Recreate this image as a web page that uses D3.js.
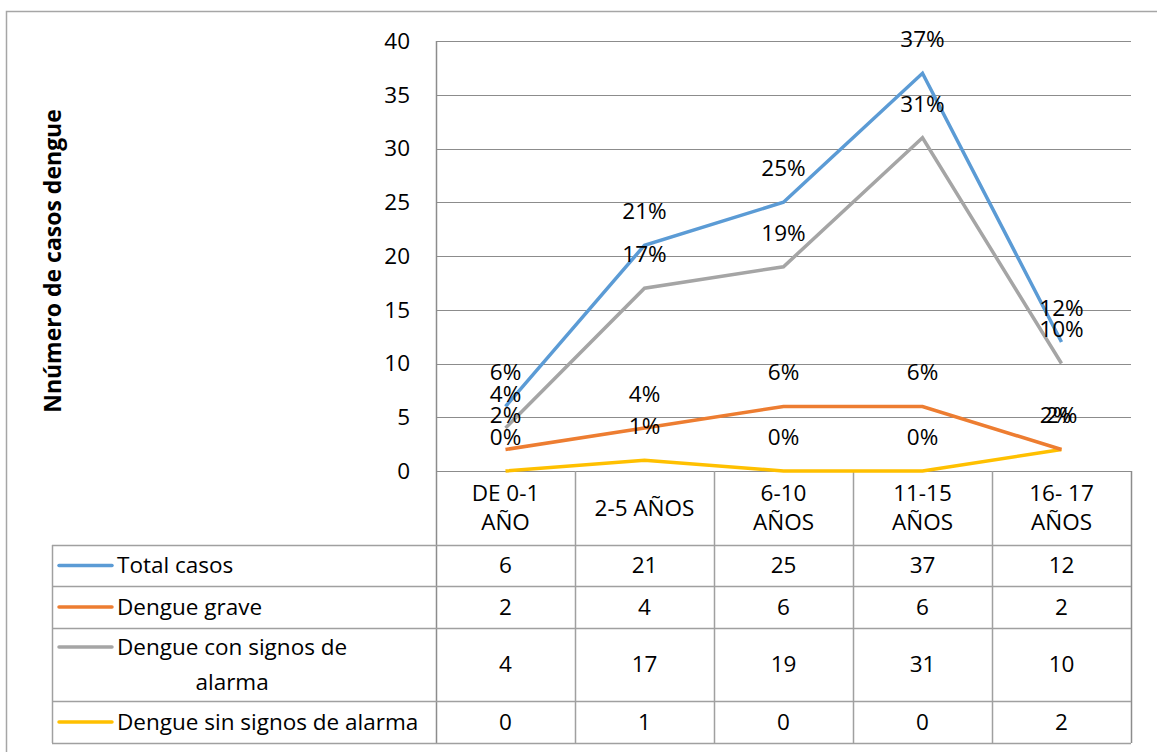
<!DOCTYPE html>
<html>
<head>
<meta charset="utf-8">
<script src="https://cdn.jsdelivr.net/npm/d3@7"></script>
<style>
  body { margin: 0; background: #fff; }
  text { font-family: "Open Sans", Lato, sans-serif; fill: #000; }
</style>
</head>
<body>
<div id="chart"></div>
<script>
// data
let categories = [["DE 0-1", "AÑO"], ["2-5 AÑOS"], ["6-10", "AÑOS"], ["11-15", "AÑOS"], ["16- 17", "AÑOS"]]
let seriesNames = [["Total casos"], ["Dengue grave"], ["Dengue con signos de", "alarma"], ["Dengue sin signos de alarma"]]
let totalCasos = [6, 21, 25, 37, 12]
let dengueGrave = [2, 4, 6, 6, 2]
let dengueConSignos = [4, 17, 19, 31, 10]
let dengueSinSignos = [0, 1, 0, 0, 2]
let yTicks = [0, 5, 10, 15, 20, 25, 30, 35, 40]
let colors = ["#5B9BD5", "#ED7D31", "#A5A5A5", "#FFC000"]

let series = [totalCasos, dengueGrave, dengueConSignos, dengueSinSignos]
let grandTotal = d3.sum(totalCasos)

let W = 1157, H = 752
let fs = "22.5px"
let svg = d3.select("#chart")
    .append("svg")
    .attr("width", W)
    .attr("height", H)

// outer chart border
svg.append("rect")
    .attr("x", 6.5)
    .attr("y", 11.5)
    .attr("width", 1200)
    .attr("height", 800)
    .attr("fill", "none")
    .attr("stroke", "#a6a6a6")
    .attr("stroke-width", 1.5)

let plotLeft = 436, plotRight = 1131, plotTop = 41, plotBottom = 471

let x = d3.scaleBand()
    .domain(d3.range(categories.length))
    .range([plotLeft, plotRight])

let y = d3.scaleLinear()
    .domain([0, 40])
    .range([plotBottom, plotTop])

let gridColor = "#8c8c8c"
let tableColor = "#a0a0a0"

// gridlines
svg.append("g")
    .selectAll("line")
    .data(yTicks)
    .join("line")
    .attr("x1", plotLeft)
    .attr("x2", plotRight)
    .attr("y1", d => Math.round(y(d)) + 0.5)
    .attr("y2", d => Math.round(y(d)) + 0.5)
    .attr("stroke", gridColor)
    .attr("stroke-width", 1.2)

// y tick labels
svg.append("g")
    .selectAll("text")
    .data(yTicks)
    .join("text")
    .attr("x", 410)
    .attr("y", d => y(d))
    .attr("dy", "0.35em")
    .attr("text-anchor", "end")
    .style("font-size", fs)
    .text(d => d)

// y axis title
svg.append("text")
    .attr("transform", "translate(61,261) rotate(-90)")
    .attr("text-anchor", "middle")
    .style("font-size", "23px")
    .style("font-weight", "bold")
    .text("Nnúmero de casos dengue")

// data table
let rowTops = [545, 586, 628, 701]
let rowBottoms = [586, 628, 701, 743]
let tableLeft = 52

// vertical lines of category columns
let colEdges = d3.range(categories.length + 1).map(i => i < categories.length ? x(i) : plotRight)
svg.append("g")
    .selectAll("line")
    .data(colEdges)
    .join("line")
    .attr("x1", d => Math.round(d) + 0.5)
    .attr("x2", d => Math.round(d) + 0.5)
    .attr("y1", d => d == plotLeft ? plotTop : plotBottom)
    .attr("y2", 743)
    .attr("stroke", d => d == plotLeft || d == plotRight ? gridColor : tableColor)
    .attr("stroke-width", 1.5)

// horizontal rows
svg.append("g")
    .selectAll("line")
    .data(rowTops.concat([743]))
    .join("line")
    .attr("x1", tableLeft)
    .attr("x2", plotRight)
    .attr("y1", d => d + 0.5)
    .attr("y2", d => d + 0.5)
    .attr("stroke", tableColor)
    .attr("stroke-width", 1.5)

svg.append("line")
    .attr("x1", tableLeft + 0.5)
    .attr("x2", tableLeft + 0.5)
    .attr("y1", 545)
    .attr("y2", 743)
    .attr("stroke", tableColor)
    .attr("stroke-width", 1.5)

// category labels
let catG = svg.append("g")
categories.forEach((lines, i) => {
    let cx = x(i) + x.bandwidth() / 2
    let cy = (plotBottom + 545) / 2
    lines.forEach((t, j) => {
        catG.append("text")
            .attr("x", cx)
            .attr("y", cy + (j - (lines.length - 1) / 2) * 29)
            .attr("dy", "0.35em")
            .attr("text-anchor", "middle")
            .style("font-size", fs)
            .text(t)
    })
})

// legend cells
series.forEach((vals, s) => {
    let cy = (rowTops[s] + rowBottoms[s]) / 2
    let lines = seriesNames[s]
    let g = svg.append("g")
    let firstY = cy - (lines.length - 1) / 2 * 35
    g.append("line")
        .attr("x1", 59)
        .attr("x2", 112)
        .attr("y1", firstY)
        .attr("y2", firstY)
        .attr("stroke", colors[s])
        .attr("stroke-width", 3.5)
        .attr("stroke-linecap", "round")
    let first = g.append("text")
        .attr("x", 117)
        .attr("y", firstY)
        .attr("dy", "0.35em")
        .style("font-size", fs)
        .text(lines[0])
    if (lines.length > 1) {
        let w = first.node().getComputedTextLength()
        g.append("text")
            .attr("x", 117 + w / 2)
            .attr("y", firstY + 35)
            .attr("dy", "0.35em")
            .attr("text-anchor", "middle")
            .style("font-size", fs)
            .text(lines[1])
    }
    g.selectAll(".val")
        .data(vals)
        .join("text")
        .attr("class", "val")
        .attr("x", (d, i) => x(i) + x.bandwidth() / 2)
        .attr("y", cy)
        .attr("dy", "0.35em")
        .attr("text-anchor", "middle")
        .style("font-size", fs)
        .text(d => d)
})

// lines
let line = d3.line()
    .x((d, i) => x(i) + x.bandwidth() / 2)
    .y(d => y(d))

let drawOrder = [3, 1, 2, 0]
drawOrder.forEach(s => {
    svg.append("path")
        .datum(series[s])
        .attr("d", line)
        .attr("fill", "none")
        .attr("stroke", colors[s])
        .attr("stroke-width", 3.5)
        .attr("stroke-linejoin", "miter")
})

// data labels (percent of total)
series.forEach((vals, s) => {
    svg.append("g")
        .selectAll("text")
        .data(vals)
        .join("text")
        .attr("x", (d, i) => x(i) + x.bandwidth() / 2 + (s == 1 && i == 4 ? -6 : 0))
        .attr("y", d => y(d) - 34)
        .attr("dy", "0.35em")
        .attr("text-anchor", "middle")
        .style("font-size", fs)
        .text(d => Math.round(d / grandTotal * 100) + "%")
})
</script>
</body>
</html>
